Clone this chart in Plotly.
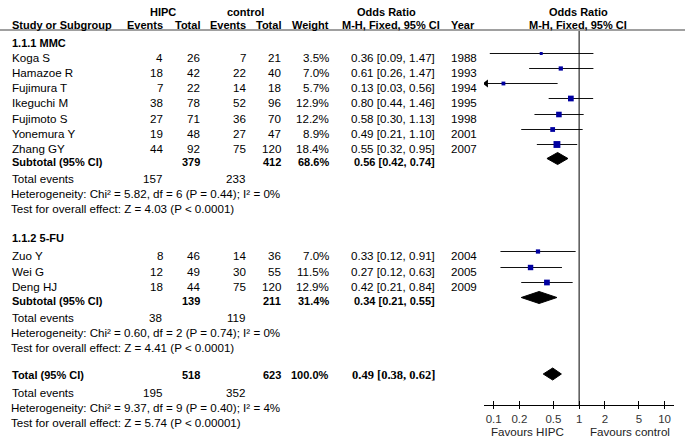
import math
import plotly.graph_objects as go

W, H = 685, 443

# ---------------- data ----------------
g1_names = ["Koga S", "Hamazoe R", "Fujimura T", "Ikeguchi M", "Fujimoto S", "Yonemura Y", "Zhang GY"]
g1_ev_hipc = [4, 18, 7, 38, 27, 19, 44]
g1_tot_hipc = [26, 42, 22, 78, 71, 48, 92]
g1_ev_ctrl = [7, 22, 14, 52, 36, 27, 75]
g1_tot_ctrl = [21, 40, 18, 96, 70, 47, 120]
g1_weight = [3.5, 7.0, 5.7, 12.9, 12.2, 8.9, 18.4]
g1_or = [0.36, 0.61, 0.13, 0.80, 0.58, 0.49, 0.55]
g1_lo = [0.09, 0.26, 0.03, 0.44, 0.30, 0.21, 0.32]
g1_hi = [1.47, 1.47, 0.56, 1.46, 1.13, 1.10, 0.95]
g1_year = [1988, 1993, 1994, 1995, 1998, 2001, 2007]
g1_sub = dict(tot_hipc=379, tot_ctrl=412, weight=68.6, est=0.56, lo=0.42, hi=0.74,
              ev_hipc=157, ev_ctrl=233,
              het="Heterogeneity: Chi² = 5.82, df = 6 (P = 0.44); I² = 0%",
              test="Test for overall effect: Z = 4.03 (P < 0.0001)")

g2_names = ["Zuo Y", "Wei G", "Deng HJ"]
g2_ev_hipc = [8, 12, 18]
g2_tot_hipc = [46, 49, 44]
g2_ev_ctrl = [14, 30, 75]
g2_tot_ctrl = [36, 55, 120]
g2_weight = [7.0, 11.5, 12.9]
g2_or = [0.33, 0.27, 0.42]
g2_lo = [0.12, 0.12, 0.21]
g2_hi = [0.91, 0.63, 0.84]
g2_year = [2004, 2005, 2009]
g2_sub = dict(tot_hipc=139, tot_ctrl=211, weight=31.4, est=0.34, lo=0.21, hi=0.55,
              ev_hipc=38, ev_ctrl=119,
              het="Heterogeneity: Chi² = 0.60, df = 2 (P = 0.74); I² = 0%",
              test="Test for overall effect: Z = 4.41 (P < 0.0001)")

total = dict(tot_hipc=518, tot_ctrl=623, weight=100.0, est=0.49, lo=0.38, hi=0.62,
             ev_hipc=195, ev_ctrl=352,
             het="Heterogeneity: Chi² = 9.37, df = 9 (P = 0.40); I² = 4%",
             test="Test for overall effect: Z = 5.74 (P < 0.00001)")

tick_vals = [0.1, 0.2, 0.5, 1, 2, 5, 10]
tick_text = ["0.1", "0.2", "0.5", "1", "2", "5", "10"]

# ---------------- layout (pixel rows / columns) ----------------
XMIN, XMAX = 0.077, 12.9
AX_L, AX_R = 484, 674
AX_Y = 405
FONT = "Liberation Sans"
FS = 11.6      # regular text
FSB = 11       # bold text

g1_rows = [57, 72, 87, 102, 118, 133, 148]
g1_sub_y, g1_ev_y, g1_het_y, g1_test_y = 162, 178, 193, 208
g1_head_y = 43
g2_head_y = 238
g2_rows = [255, 271, 286]
g2_sub_y, g2_ev_y, g2_het_y, g2_test_y = 301, 317, 332, 347
tot_y, tot_ev_y, tot_het_y, tot_test_y = 375, 392, 407, 422
MARK_OFF = -3.5

COL_NAME = 10
COL_EVH = 165
COL_TOTH = 202
COL_EVC = 248
COL_TOTC = 283
COL_W = 331
COL_OR = 437
COL_YEAR = 449

fig = go.Figure()
ann = []


def txt(x, y, s, anchor="left", bold=False, color="#000", family=FONT, size=None):
    if size is None:
        size = FSB if bold else FS
    ann.append(dict(x=x / W, y=y, xref="paper", yref="y", text=("<b>%s</b>" % s) if bold else s,
                    showarrow=False, xanchor=anchor, yanchor="middle",
                    font=dict(family=family, size=size, color=color)))


# headers
txt(163, 12, "HIPC", "center", True)
txt(245, 12, "control", "center", True)
txt(386, 12, "Odds Ratio", "center", True)
txt(578, 12, "Odds Ratio", "center", True)
txt(COL_NAME, 25, "Study or Subgroup", "left", True)
txt(COL_EVH, 25, "Events", "right", True)
txt(COL_TOTH, 25, "Total", "right", True)
txt(COL_EVC, 25, "Events", "right", True)
txt(COL_TOTC, 25, "Total", "right", True)
txt(COL_W, 25, "Weight", "right", True)
txt(391, 25, "M-H, Fixed, 95% CI", "center", True)
txt(COL_YEAR, 25, "Year", "left", True)
txt(578, 25, "M-H, Fixed, 95% CI", "center", True)


def study_block(names, evh, toth, evc, totc, wt, orv, lo, hi, yr, rows):
    for i, n in enumerate(names):
        y = rows[i]
        txt(COL_NAME, y, n)
        txt(COL_EVH, y, str(evh[i]), "right")
        txt(COL_TOTH, y, str(toth[i]), "right")
        txt(COL_EVC, y, str(evc[i]), "right")
        txt(COL_TOTC, y, str(totc[i]), "right")
        txt(COL_W, y, "%.1f%%" % wt[i], "right")
        txt(COL_OR, y, "%.2f [%.2f, %.2f]" % (orv[i], lo[i], hi[i]), "right")
        txt(COL_YEAR, y, str(yr[i]))
        ym = y + MARK_OFF
        l = max(lo[i], XMIN)
        fig.add_trace(go.Scatter(x=[l, hi[i]], y=[ym, ym], mode="lines",
                                 line=dict(color="#111", width=1), hoverinfo="skip", showlegend=False))
        if lo[i] < XMIN:
            fig.add_trace(go.Scatter(x=[XMIN * 1.06], y=[ym], mode="markers",
                                     marker=dict(symbol="triangle-left", size=7, color="#000"),
                                     hoverinfo="skip", showlegend=False))
        fig.add_trace(go.Scatter(x=[orv[i]], y=[ym], mode="markers",
                                 marker=dict(symbol="square", size=1.6 * math.sqrt(wt[i]), color="#0000A0",
                                             line=dict(width=0)),
                                 hoverinfo="skip", showlegend=False))


def diamond(d, y, hh=6):
    fig.add_trace(go.Scatter(x=[d["lo"], d["est"], d["hi"], d["est"], d["lo"]],
                             y=[y, y - hh, y, y + hh, y], mode="lines", fill="toself",
                             fillcolor="#000", line=dict(color="#000", width=1),
                             hoverinfo="skip", showlegend=False))


def summary(d, sub_y, ev_y, het_y, test_y, label, pct, or_family=FONT, or_size=FSB):
    txt(COL_NAME, sub_y, label, "left", True)
    txt(COL_TOTH, sub_y, str(d["tot_hipc"]), "right", True)
    txt(COL_TOTC, sub_y, str(d["tot_ctrl"]), "right", True)
    txt(COL_W, sub_y, pct, "right", True)
    txt(COL_OR, sub_y, "%.2f [%.2f, %.2f]" % (d["est"], d["lo"], d["hi"]), "right", True,
        family=or_family, size=or_size)
    txt(COL_NAME, ev_y, "Total events")
    txt(COL_EVH - 1, ev_y, str(d["ev_hipc"]), "right")
    txt(COL_EVC - 1, ev_y, str(d["ev_ctrl"]), "right")
    txt(COL_NAME - 1, het_y, d["het"])
    txt(COL_NAME - 1, test_y, d["test"])


txt(COL_NAME, g1_head_y, "1.1.1 MMC", "left", True)
study_block(g1_names, g1_ev_hipc, g1_tot_hipc, g1_ev_ctrl, g1_tot_ctrl, g1_weight,
            g1_or, g1_lo, g1_hi, g1_year, g1_rows)
summary(g1_sub, g1_sub_y, g1_ev_y, g1_het_y, g1_test_y, "Subtotal (95% CI)", "%.1f%%" % g1_sub["weight"])
diamond(g1_sub, g1_sub_y + MARK_OFF)

txt(COL_NAME, g2_head_y, "1.1.2 5-FU", "left", True)
study_block(g2_names, g2_ev_hipc, g2_tot_hipc, g2_ev_ctrl, g2_tot_ctrl, g2_weight,
            g2_or, g2_lo, g2_hi, g2_year, g2_rows)
summary(g2_sub, g2_sub_y, g2_ev_y, g2_het_y, g2_test_y, "Subtotal (95% CI)", "%.1f%%" % g2_sub["weight"])
diamond(g2_sub, g2_sub_y + MARK_OFF)

summary(total, tot_y, tot_ev_y, tot_het_y, tot_test_y, "Total (95% CI)", "%.1f%%" % total["weight"],
        or_family="Liberation Serif", or_size=12.5)
diamond(total, tot_y - 1)

# null line
fig.add_trace(go.Scatter(x=[1, 1], y=[31, AX_Y], mode="lines", line=dict(color="#000", width=1),
                         hoverinfo="skip", showlegend=False))

txt(527, 431, "Favours HIPC", "center", color="#222")
txt(630, 431, "Favours control", "center", color="#222")

shapes = [dict(type="line", xref="paper", yref="y", x0=0, x1=1, y0=30, y1=30,
               line=dict(color="#808080", width=1.5))]

xr = [math.log10(XMIN), math.log10(XMAX)]
pos = 1 - AX_Y / H
fig.update_layout(
    width=W, height=H, margin=dict(l=0, r=0, t=0, b=0),
    paper_bgcolor="white", plot_bgcolor="rgba(0,0,0,0)",
    showlegend=False, annotations=ann, shapes=shapes,
    xaxis=dict(type="log", range=xr, domain=[AX_L / W, AX_R / W], anchor="free", position=pos,
               showline=True, linecolor="#000", linewidth=1, showgrid=False, zeroline=False,
               ticks="outside", ticklen=3, tickcolor="#000", tickvals=tick_vals, ticktext=tick_text,
               tickfont=dict(family=FONT, size=11.5, color="#333"), fixedrange=True),
    xaxis2=dict(type="log", range=xr, domain=[AX_L / W, AX_R / W], anchor="free", position=pos,
                overlaying="x", showline=False, showgrid=False, zeroline=False,
                ticks="inside", ticklen=4, tickcolor="#000", tickvals=tick_vals, showticklabels=False),
    yaxis=dict(range=[H, 0], domain=[0, 1], visible=False, fixedrange=True),
)
# dummy trace to activate xaxis2
fig.add_trace(go.Scatter(x=[1], y=[-100], xaxis="x2", mode="markers", marker=dict(opacity=0),
                         hoverinfo="skip", showlegend=False))

fig.write_html("out.html", config={"displayModeBar": False},
               post_script="document.body.style.margin='0px';document.body.style.overflow='hidden';")
